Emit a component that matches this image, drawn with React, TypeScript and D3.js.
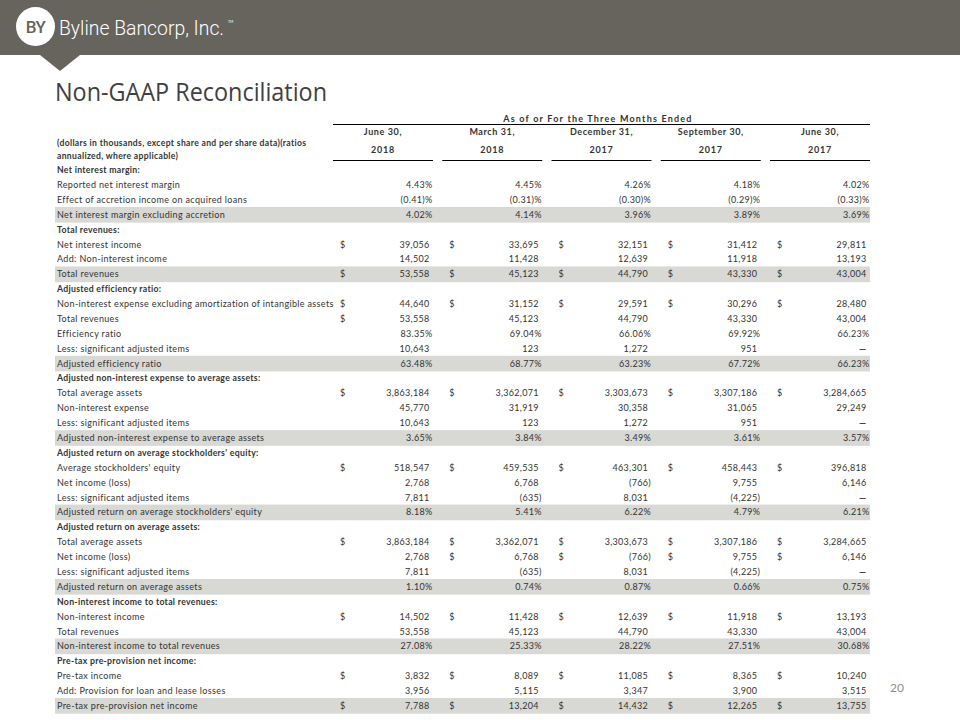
import React from "react";
import * as d3 from "d3";

const colMonths = ["June 30,", "March 31,", "December 31,", "September 30,", "June 30,"];
const colYears = ["2018", "2018", "2017", "2017", "2017"];

// kind: h = section header, r = regular row, s = shaded subtotal row
const rowLabels = [
  "Net interest margin:",
  "Reported net interest margin",
  "Effect of accretion income on acquired loans",
  "Net interest margin excluding accretion",
  "Total revenues:",
  "Net interest income",
  "Add: Non-interest income",
  "Total revenues",
  "Adjusted efficiency ratio:",
  "Non-interest expense excluding amortization of intangible assets",
  "Total revenues",
  "Efficiency ratio",
  "Less: significant adjusted items",
  "Adjusted efficiency ratio",
  "Adjusted non-interest expense to average assets:",
  "Total average assets",
  "Non-interest expense",
  "Less: significant adjusted items",
  "Adjusted non-interest expense to average assets",
  "Adjusted return on average stockholders' equity:",
  "Average stockholders' equity",
  "Net income (loss)",
  "Less: significant adjusted items",
  "Adjusted return on average stockholders' equity",
  "Adjusted return on average assets:",
  "Total average assets",
  "Net income (loss)",
  "Less: significant adjusted items",
  "Adjusted return on average assets",
  "Non-interest income to total revenues:",
  "Non-interest income",
  "Total revenues",
  "Non-interest income to total revenues",
  "Pre-tax pre-provision net income:",
  "Pre-tax income",
  "Add: Provision for loan and lease losses",
  "Pre-tax pre-provision net income",
];
const rowKinds = [
  "h", "r", "r", "s",
  "h", "r", "r", "s",
  "h", "r", "r", "r", "r", "s",
  "h", "r", "r", "r", "s",
  "h", "r", "r", "r", "s",
  "h", "r", "r", "r", "s",
  "h", "r", "r", "s",
  "h", "r", "r", "s",
];
// which columns show a "$" sign in each row
const dollarMasks = [
  "00000", "00000", "00000", "00000",
  "00000", "11111", "00000", "11111",
  "00000", "11111", "10000", "00000", "00000", "00000",
  "00000", "11111", "00000", "00000", "00000",
  "00000", "11111", "00000", "00000", "00000",
  "00000", "11111", "01111", "00000", "00000",
  "00000", "11111", "00000", "00000",
  "00000", "11111", "00000", "11111",
];

const valuesJun2018 = [
  "", "4.43%", "(0.41)%", "4.02%",
  "", "39,056", "14,502", "53,558",
  "", "44,640", "53,558", "83.35%", "10,643", "63.48%",
  "", "3,863,184", "45,770", "10,643", "3.65%",
  "", "518,547", "2,768", "7,811", "8.18%",
  "", "3,863,184", "2,768", "7,811", "1.10%",
  "", "14,502", "53,558", "27.08%",
  "", "3,832", "3,956", "7,788",
];
const valuesMar2018 = [
  "", "4.45%", "(0.31)%", "4.14%",
  "", "33,695", "11,428", "45,123",
  "", "31,152", "45,123", "69.04%", "123", "68.77%",
  "", "3,362,071", "31,919", "123", "3.84%",
  "", "459,535", "6,768", "(635)", "5.41%",
  "", "3,362,071", "6,768", "(635)", "0.74%",
  "", "11,428", "45,123", "25.33%",
  "", "8,089", "5,115", "13,204",
];
const valuesDec2017 = [
  "", "4.26%", "(0.30)%", "3.96%",
  "", "32,151", "12,639", "44,790",
  "", "29,591", "44,790", "66.06%", "1,272", "63.23%",
  "", "3,303,673", "30,358", "1,272", "3.49%",
  "", "463,301", "(766)", "8,031", "6.22%",
  "", "3,303,673", "(766)", "8,031", "0.87%",
  "", "12,639", "44,790", "28.22%",
  "", "11,085", "3,347", "14,432",
];
const valuesSep2017 = [
  "", "4.18%", "(0.29)%", "3.89%",
  "", "31,412", "11,918", "43,330",
  "", "30,296", "43,330", "69.92%", "951", "67.72%",
  "", "3,307,186", "31,065", "951", "3.61%",
  "", "458,443", "9,755", "(4,225)", "4.79%",
  "", "3,307,186", "9,755", "(4,225)", "0.66%",
  "", "11,918", "43,330", "27.51%",
  "", "8,365", "3,900", "12,265",
];
const valuesJun2017 = [
  "", "4.02%", "(0.33)%", "3.69%",
  "", "29,811", "13,193", "43,004",
  "", "28,480", "43,004", "66.23%", "—", "66.23%",
  "", "3,284,665", "29,249", "—", "3.57%",
  "", "396,818", "6,146", "—", "6.21%",
  "", "3,284,665", "6,146", "—", "0.75%",
  "", "13,193", "43,004", "30.68%",
  "", "10,240", "3,515", "13,755",
];
const columnValues = [valuesJun2018, valuesMar2018, valuesDec2017, valuesSep2017, valuesJun2017];

const FONT = "Lato, 'DejaVu Sans', sans-serif";
const TEXT = "#333333";
const BAND = "#67635d";

export default function App() {
  const W = 960;
  const H = 720;
  const x = d3.scaleBand<number>().domain(d3.range(5)).range([333, 870]).paddingInner(0.085).paddingOuter(0);
  const y = d3.scaleBand<number>().domain(d3.range(rowLabels.length)).range([162.6, 713.2]).padding(0);
  const bw = x.bandwidth();
  const rh = y.bandwidth();

  const valueX = (c: number, v: string) => {
    const end = (x(c) as number) + bw;
    if (v.endsWith(")") || v.endsWith("%")) return end - 0.5;
    return end - 3.5;
  };

  return (
    <svg width={W} height={H} style={{ position: "absolute", left: 0, top: 0, background: "#fff" }} fontFamily={FONT}>
      {/* header band */}
      <rect x={0} y={0} width={W} height={55} fill={BAND} />
      <path d="M40,55 L80,55 L60,71 Z" fill={BAND} />
      <circle cx={35.5} cy={26.5} r={19.5} fill="#ffffff" />
      <text x={35.5} y={32.5} textAnchor="middle" fontSize={17} fontWeight={500} fill={BAND} fontFamily="Roboto, sans-serif" letterSpacing={-0.5}>BY</text>
      <text x={59} y={35} fontSize={20} fill="#ffffff" fontFamily="Roboto, sans-serif" fontWeight={300} textLength={165} lengthAdjust="spacingAndGlyphs">Byline Bancorp, Inc.</text>
      <text x={228} y={23} fontSize={3.5} fill="#ffffff">TM</text>

      {/* title */}
      <text x={55} y={101} fontSize={26} fill="#404040" fontFamily="'Open Sans', sans-serif" textLength={272} lengthAdjust="spacingAndGlyphs">Non-GAAP Reconciliation</text>

      {/* column header */}
      <text x={598} y={119} dy="0.35em" textAnchor="middle" fontSize={9} fontWeight={700} fill={TEXT} letterSpacing={1.2}>As of or For the Three Months Ended</text>
      <line x1={333} x2={870} y1={124.5} y2={124.5} stroke="#000" strokeWidth={1} />
      {colMonths.map((m, i) => (
        <g key={"h" + i}>
          <text x={(x(i) as number) + bw / 2} y={131.5} dy="0.35em" textAnchor="middle" fontSize={9} fontWeight={700} fill={TEXT} letterSpacing={0.6}>{m}</text>
          <text x={(x(i) as number) + bw / 2} y={150} dy="0.35em" textAnchor="middle" fontSize={9} fontWeight={700} fill={TEXT} letterSpacing={0.8}>{colYears[i]}</text>
          <line x1={x(i) as number} x2={(x(i) as number) + bw} y1={160.5} y2={160.5} stroke="#000" strokeWidth={1} />
        </g>
      ))}
      <text x={57} y={143} dy="0.35em" fontSize={8.6} fontWeight={700} fill={TEXT} letterSpacing={0.33}>(dollars in thousands, except share and per share data)(ratios</text>
      <text x={57} y={156} dy="0.35em" fontSize={8.6} fontWeight={700} fill={TEXT} letterSpacing={0.33}>annualized, where applicable)</text>

      {/* shaded rows */}
      {rowKinds.map((k, r) =>
        k === "s" ? <rect key={"b" + r} x={55} y={(y(r) as number) - 0.3} width={815} height={rh + 0.8} fill="#d8d8d4" /> : null
      )}

      {/* labels */}
      {rowLabels.map((lab, r) => (
        <text key={"l" + r} x={57} y={(y(r) as number) + rh / 2} dy="0.35em" fontSize={rowKinds[r] === "h" ? 8.7 : 9} fontWeight={rowKinds[r] === "h" ? 700 : 400} fill={TEXT} letterSpacing={rowKinds[r] === "h" ? 0.3 : 0.35}>{lab}</text>
      ))}

      {/* values */}
      {columnValues.map((vals, c) =>
        vals.map((v, r) => {
          if (!v) return null;
          const cy = (y(r) as number) + rh / 2;
          return (
            <g key={"v" + c + "_" + r}>
              {dollarMasks[r][c] === "1" ? (
                <text x={(x(c) as number) + 7} y={cy} dy="0.35em" fontSize={9} fill={TEXT}>$</text>
              ) : null}
              <text x={valueX(c, v)} y={cy} dy="0.35em" textAnchor="end" fontSize={9} fill={TEXT} letterSpacing={0.3} fontWeight={v === "—" ? 700 : 400}>{v}</text>
            </g>
          );
        })
      )}

      {/* page number */}
      <text x={897} y={688} dy="0.35em" textAnchor="middle" fontSize={12} fill="#8c8c8c">20</text>
    </svg>
  );
}
